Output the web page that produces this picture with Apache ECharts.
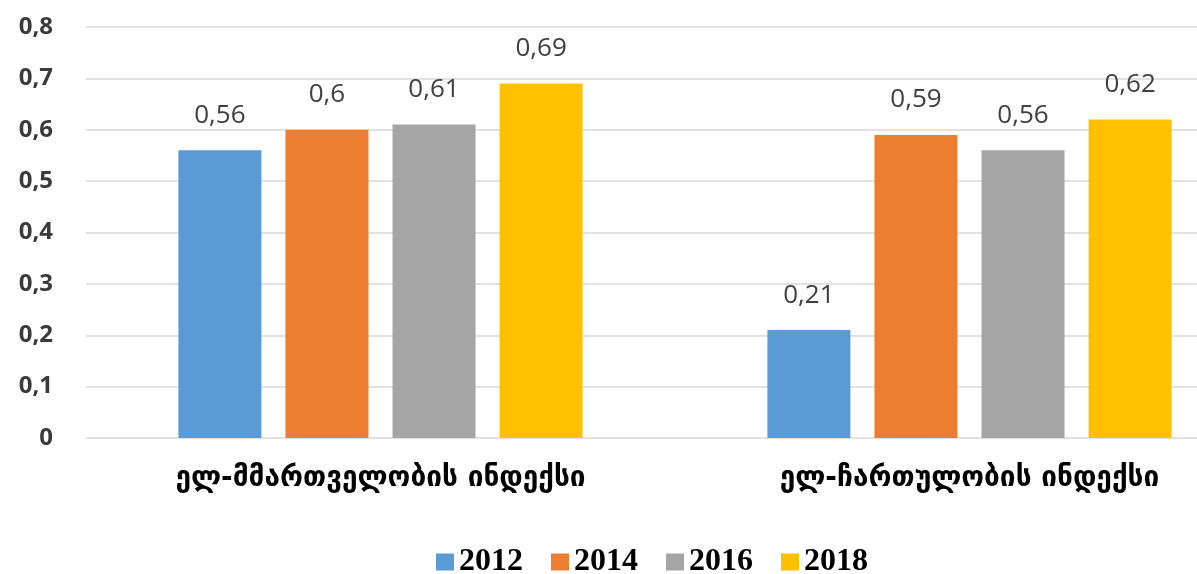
<!DOCTYPE html>
<html>
<head>
<meta charset="utf-8">
<script src="https://cdn.jsdelivr.net/npm/echarts@6/dist/echarts.min.js"></script>
<style>
html,body{margin:0;padding:0;background:#fff;overflow:hidden;width:1197px;height:574px;}
#chart{width:1264px;height:574px;}
</style>
</head>
<body>
<div id="chart"></div>
<script>
const categories = ['ელ-მმართველობის ინდექსი', 'ელ-ჩართულობის ინდექსი'];
const seriesNames = ['2012', '2014', '2016', '2018'];
const values2012 = [0.56, 0.21];
const values2014 = [0.6, 0.59];
const values2016 = [0.61, 0.56];
const values2018 = [0.69, 0.62];
const colors = ['#5B9BD5', '#ED7D31', '#A5A5A5', '#FFC000'];

const allValues = [values2012, values2014, values2016, values2018];
const fmt = v => String(v).replace('.', ',');

const chart = echarts.init(document.getElementById('chart'));
chart.setOption({
  animation: false,
  backgroundColor: '#ffffff',
  color: colors,
  grid: { left: 86, right: 0, top: 27, bottom: 136, containLabel: false },
  legend: {
    data: seriesNames,
    left: 431,
    top: 541,
    itemWidth: 18,
    itemHeight: 17,
    itemGap: 28,
    itemTextGap: 8,
    icon: 'rect',
    textStyle: { fontFamily: 'Liberation Serif', fontWeight: 'bold', fontSize: 32, color: '#000' }
  },
  xAxis: {
    type: 'category',
    data: categories,
    axisLine: { show: false },
    axisTick: { show: false },
    axisLabel: {
      margin: 27,
      fontFamily: 'DejaVu Sans',
      fontWeight: 'bold',
      fontSize: 28,
      color: '#000'
    }
  },
  yAxis: {
    type: 'value',
    min: 0,
    max: 0.8,
    interval: 0.1,
    axisLine: { show: false },
    axisTick: { show: false },
    splitLine: { lineStyle: { color: '#d9d9d9', width: 1.5 } },
    axisLabel: {
      margin: 33,
      fontFamily: 'Open Sans',
      fontWeight: 'bold',
      fontSize: 24,
      color: '#3a3a3a',
      formatter: v => fmt(Math.round(v * 10) / 10)
    }
  },
  series: seriesNames.map((name, i) => ({
    name: name,
    type: 'bar',
    data: allValues[i],
    barWidth: 83,
    barGap: '29%',
    label: {
      show: true,
      position: 'top',
      distance: 22,
      fontFamily: 'Open Sans',
      fontSize: 26,
      color: '#404040',
      formatter: p => fmt(p.value)
    }
  }))
});
</script>
</body>
</html>
